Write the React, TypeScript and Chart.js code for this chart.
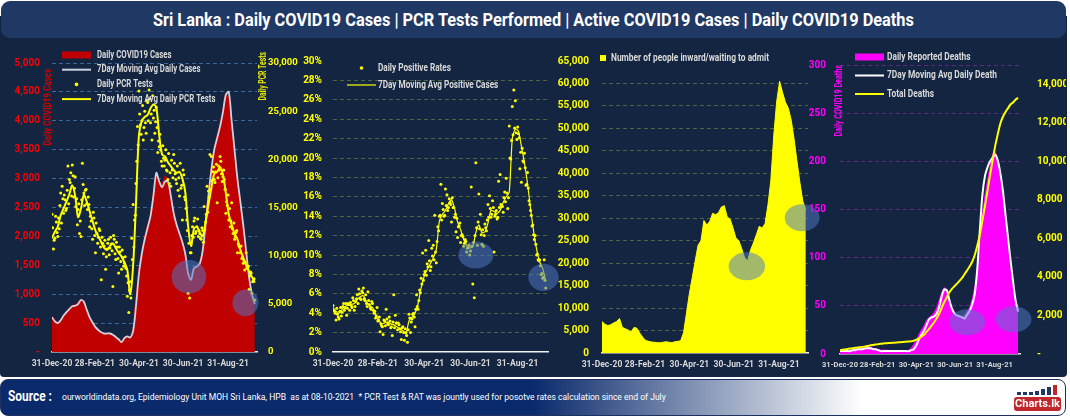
import React, { useEffect, useRef } from 'react';
import { Chart, registerables } from 'chart.js';

Chart.register(...registerables);

const FONT = 'Roboto, "Liberation Sans", sans-serif';

// ---------- x axis (days since 31-Dec-2020) ----------
const tickDays = [0, 59, 120, 181, 243];
const tickLabels = ['31-Dec-20', '28-Feb-21', '30-Apr-21', '30-Jun-21', '31-Aug-21'];

const gridDays = [0, 4, 8, 12, 16, 20, 24, 28, 32, 36, 40, 44, 48, 52, 56, 60, 64, 68, 72, 76, 80, 84, 88, 92, 96, 100, 104, 108, 112, 116, 120, 124, 128, 132, 136, 140, 144, 148, 152, 156, 160, 164, 168, 172, 176, 180, 184, 188, 192, 196, 200, 204, 208, 212, 216, 220, 224, 228, 232, 236, 240, 244, 248, 252, 256, 260, 264, 268, 272, 276, 280];

const dotDays = [0, 2, 4, 6, 8, 10, 12, 14, 16, 18, 20, 22, 24, 26, 28, 30, 32, 34, 36, 38, 40, 42, 44, 46, 48, 50, 52, 54, 56, 58, 60, 62, 64, 66, 68, 70, 72, 74, 76, 78, 80, 82, 84, 86, 88, 90, 92, 94, 96, 98, 100, 102, 104, 106, 108, 110, 112, 114, 116, 118, 120, 122, 124, 126, 128, 130, 132, 134, 136, 138, 140, 142, 144, 146, 148, 150, 152, 154, 156, 158, 160, 162, 164, 166, 168, 170, 172, 174, 176, 178, 180, 182, 184, 186, 188, 190, 192, 194, 196, 198, 200, 202, 204, 206, 208, 210, 212, 214, 216, 218, 220, 222, 224, 226, 228, 230, 232, 234, 236, 238, 240, 242, 244, 246, 248, 250, 252, 254, 256, 258, 260, 262, 264, 266, 268, 270, 272, 274, 276, 278, 280];

const oddDays = [1, 3, 5, 7, 9, 11, 13, 15, 17, 19, 21, 23, 25, 27, 29, 31, 33, 35, 37, 39, 41, 43, 45, 47, 49, 51, 53, 55, 57, 59, 61, 63, 65, 67, 69, 71, 73, 75, 77, 79, 81, 83, 85, 87, 89, 91, 93, 95, 97, 99, 101, 103, 105, 107, 109, 111, 113, 115, 117, 119, 121, 123, 125, 127, 129, 131, 133, 135, 137, 139, 141, 143, 145, 147, 149, 151, 153, 155, 157, 159, 161, 163, 165, 167, 169, 171, 173, 175, 177, 179, 181, 183, 185, 187, 189, 191, 193, 195, 197, 199, 201, 203, 205, 207, 209, 211, 213, 215, 217, 219, 221, 223, 225, 227, 229, 231, 233, 235, 237, 239, 241, 243, 245, 247, 249, 251, 253, 255, 257, 259, 261, 263, 265, 267, 269, 271, 273, 275, 277, 279];

// ---------- Panel 1: cases & PCR tests ----------
const dailyCases = [620, 560, 500, 560, 640, 700, 760, 800, 820, 860, 920, 860, 700, 580, 500, 420, 380, 340, 320, 330, 320, 300, 260, 220, 160, 260, 270, 240, 400, 950, 1450, 1750, 2000, 2200, 2350, 2800, 3100, 2950, 2900, 3050, 3000, 2700, 2400, 2200, 2050, 1900, 1700, 1400, 1350, 1480, 1500, 1560, 1800, 2250, 2800, 3200, 3550, 3750, 3950, 4200, 4500, 4400, 3800, 3350, 3000, 2500, 2050, 1650, 1250, 950, 830];
const avgCases = [600, 530, 500, 550, 630, 690, 740, 790, 800, 830, 900, 870, 730, 600, 510, 430, 380, 340, 320, 320, 320, 300, 260, 220, 170, 240, 270, 250, 360, 800, 1350, 1700, 1950, 2150, 2350, 2700, 3100, 2950, 2850, 2950, 2950, 2700, 2400, 2200, 2050, 1900, 1700, 1350, 1250, 1450, 1480, 1530, 1750, 2200, 2700, 3150, 3500, 3700, 3900, 4150, 4450, 4500, 4000, 3500, 3000, 2600, 2200, 1750, 1300, 1000, 830];
const avgPcr = [11800, 12500, 13000, 14200, 14900, 15600, 16400, 17300, 16200, 14000, 14900, 16300, 15600, 14600, 13600, 12600, 12000, 11400, 10800, 10600, 11000, 11300, 10800, 10300, 9900, 9300, 8500, 6000, 9000, 15500, 22500, 24000, 24400, 24600, 25300, 25700, 25400, 22500, 20500, 20300, 19700, 19300, 18900, 18600, 18700, 18000, 16600, 13000, 11000, 12800, 13000, 12400, 12000, 13500, 15300, 17000, 18500, 18700, 19200, 18400, 16500, 14300, 13200, 12300, 11700, 10600, 9800, 9000, 8400, 7800, 7200];
const pcrDots = [14300, 10700, 11800, 13500, 12000, 12800, 16500, 17200, 14400, 15800, 14900, 19300, 17900, 18600, 19400, 16100, 18200, 15900, 14800, 12300, 12000, 19600, 16500, 16800, 15400, 16100, 13000, 13600, 11700, 13900, 10300, 12300, 11900, 12600, 7500, 11300, 11000, 8600, 10700, 11700, 10800, 11200, 6800, 11700, 9600, 10900, 8200, 10400, 8600, 9800, 9200, 8700, 5800, 4100, 7300, 11800, 15300, 13700, 17500, 23400, 27100, 23600, 24000, 22000, 25000, 22700, 25900, 27200, 23800, 22000, 24300, 22700, 25400, 20700, 21300, 21000, 19300, 20100, 19900, 18900, 17900, 17500, 17200, 18900, 20500, 18500, 17500, 16800, 16200, 17000, 13700, 18400, 15800, 13700, 6100, 5600, 10300, 13000, 13600, 12300, 13000, 12000, 12300, 11700, 12600, 15100, 13500, 17200, 16700, 20500, 20300, 18700, 17900, 18700, 15500, 19300, 20300, 18500, 18200, 17900, 14400, 15200, 13700, 13000, 15500, 12300, 11700, 12400, 10300, 11000, 10300, 9700, 9200, 8500, 10300, 8800, 6500, 8300, 6100, 7400, 5400];
const pcrDotsOdd = [12900, 11600, 14100, 12400, 13900, 15200, 13400, 15900, 16300, 14700, 16800, 15400, 17600, 16200, 18300, 17000, 15100, 13200, 15400, 13600, 15800, 17400, 15200, 16900, 14800, 15300, 14100, 12800, 14500, 12100, 13400, 11300, 12800, 10900, 11900, 10200, 11600, 9900, 11300, 10100, 11900, 10500, 12100, 10200, 11400, 9700, 10900, 9400, 10600, 8900, 9900, 7900, 7200, 6400, 5600, 9600, 10900, 14200, 19800, 21500, 24700, 22600, 25600, 23300, 23800, 26100, 24000, 26300, 24700, 26600, 25100, 23900, 23300, 21900, 22600, 19800, 21400, 19300, 21000, 18800, 20600, 18600, 19900, 18100, 19600, 17900, 19300, 18100, 19600, 17300, 18900, 16100, 14900, 12600, 11300, 10300, 12100, 11900, 13900, 12500, 13800, 12600, 11800, 12900, 11400, 12700, 14300, 14500, 16100, 16900, 17800, 19200, 17600, 19500, 18100, 18900, 19800, 17700, 18900, 16900, 15600, 16300, 14900, 13600, 12800, 13400, 12000, 12600, 11200, 10900, 11000, 9900, 9500, 9300, 8700, 8900, 7900, 8200, 7300, 7600];

// ---------- Panel 2: positive rates (%) ----------
const avgPositive = [4.6, 4.2, 4.0, 4.4, 4.7, 4.8, 4.9, 5.0, 5.4, 5.7, 5.8, 5.2, 4.8, 4.6, 3.9, 3.3, 2.9, 3.0, 3.1, 2.9, 2.8, 2.6, 2.4, 2.2, 1.9, 3.2, 3.6, 4.0, 5.0, 6.6, 7.8, 8.5, 9.1, 9.7, 10.6, 13.5, 14.2, 14.6, 15.3, 15.7, 14.8, 13.4, 12.6, 11.6, 11.0, 10.7, 10.9, 12.3, 13.1, 12.3, 12.4, 13.3, 14.6, 14.5, 14.3, 14.6, 15.4, 16.0, 16.5, 22.0, 23.0, 22.8, 21.2, 19.5, 17.4, 14.8, 12.5, 10.6, 9.3, 8.6, 7.3];
const positiveDots = [4.8, 4.2, 3.3, 3.9, 3.4, 4.6, 4.1, 5.0, 4.6, 3.8, 5.0, 4.3, 4.8, 5.6, 4.3, 5.2, 5.9, 6.5, 5.5, 6.3, 6.6, 5.3, 5.0, 6.2, 4.9, 4.4, 5.0, 4.0, 3.5, 4.6, 3.3, 2.1, 2.7, 1.8, 3.2, 4.4, 2.9, 3.6, 2.5, 1.7, 5.9, 3.8, 3.0, 3.0, 2.4, 1.3, 2.6, 1.2, 2.0, 1.0, 3.9, 2.0, 3.4, 4.0, 2.6, 5.9, 4.4, 6.4, 7.6, 10.2, 8.0, 10.5, 9.1, 11.5, 8.4, 10.7, 11.0, 14.1, 9.2, 12.9, 14.0, 17.3, 15.3, 14.0, 16.8, 16.2, 14.9, 15.4, 13.4, 14.9, 13.9, 12.4, 11.8, 13.0, 11.3, 12.1, 10.9, 11.6, 10.3, 10.8, 10.0, 17.0, 7.0, 5.6, 19.5, 11.0, 16.3, 14.2, 11.1, 10.9, 13.2, 12.5, 15.2, 16.1, 13.9, 15.6, 10.3, 14.2, 13.7, 17.6, 18.3, 15.0, 14.4, 16.5, 17.9, 14.8, 23.3, 19.9, 25.3, 27.0, 25.9, 21.9, 22.5, 18.9, 17.5, 19.7, 20.5, 17.2, 18.5, 15.6, 14.6, 13.0, 12.1, 12.0, 10.0, 9.5, 9.5, 8.0, 7.6, 9.5, 6.6];
const positiveDotsOdd = [4.3, 4.0, 4.5, 3.6, 4.2, 3.7, 4.7, 4.3, 5.0, 4.5, 4.9, 5.1, 4.6, 5.3, 4.7, 5.5, 5.0, 6.0, 5.4, 6.1, 5.5, 5.9, 4.7, 5.3, 4.6, 5.2, 4.3, 4.2, 3.7, 3.2, 3.6, 2.9, 2.6, 3.3, 2.7, 3.4, 2.8, 3.2, 2.6, 3.1, 2.5, 3.0, 2.3, 2.8, 2.1, 2.5, 2.0, 2.4, 1.7, 2.3, 3.5, 3.1, 3.9, 3.6, 4.4, 4.7, 5.3, 6.1, 7.0, 7.4, 8.3, 7.9, 8.8, 9.4, 8.8, 9.9, 9.5, 10.3, 11.4, 12.5, 14.1, 13.6, 14.7, 14.1, 15.1, 14.6, 15.8, 15.2, 15.9, 14.9, 14.2, 13.8, 12.9, 13.3, 12.0, 11.9, 11.2, 11.4, 10.7, 11.0, 10.4, 10.9, 11.3, 12.0, 12.8, 13.4, 12.7, 12.1, 12.6, 12.0, 12.8, 13.6, 13.9, 14.8, 14.2, 14.9, 14.0, 14.6, 13.9, 14.9, 15.2, 15.0, 15.9, 15.5, 16.4, 15.9, 20.0, 21.8, 22.4, 23.1, 22.6, 23.2, 22.1, 20.6, 21.0, 19.6, 19.0, 17.3, 16.9, 15.2, 14.1, 13.1, 11.6, 11.1, 10.1, 9.4, 8.9, 8.1, 7.7, 7.4];

// ---------- Panel 3: people inward / waiting to admit ----------
const activeCases = [7000, 6400, 6100, 6300, 6700, 7000, 7700, 5700, 5400, 5100, 4700, 5700, 5500, 4400, 3500, 2800, 2600, 2450, 2400, 2300, 2300, 2400, 2500, 2400, 2300, 2500, 2600, 2700, 4500, 8800, 13200, 16800, 20500, 24000, 25000, 29500, 28500, 29300, 31100, 30800, 31200, 32500, 32800, 30300, 29800, 27800, 25600, 25000, 23200, 21200, 20500, 22900, 24500, 26300, 28200, 27800, 28800, 33000, 38500, 48500, 56000, 60500, 58000, 55800, 54500, 51800, 47500, 42500, 37800, 33700, 32000];

// ---------- Panel 4: deaths ----------
const dailyDeaths = [3, 3, 4, 3, 4, 4, 5, 5, 5, 6, 6, 7, 7, 6, 5, 5, 4, 4, 4, 4, 3, 3, 3, 3, 3, 3, 3, 4, 6, 10, 14, 20, 25, 29, 35, 38, 40, 43, 48, 56, 64, 69, 62, 54, 48, 44, 39, 40, 39, 40, 45, 48, 57, 70, 85, 105, 145, 165, 180, 195, 208, 210, 202, 186, 162, 135, 110, 84, 65, 52, 44];
const avgDeaths = [3, 3, 3, 3, 3, 4, 4, 5, 5, 5, 6, 6, 6, 5, 5, 4, 3, 3, 3, 3, 3, 3, 3, 3, 3, 3, 3, 3, 4, 5, 9, 15, 20, 24, 30, 36, 38, 39, 42, 49, 60, 67, 66, 56, 47, 42, 40, 39, 38, 37, 41, 45, 52, 63, 90, 130, 166, 185, 194, 200, 204, 207, 201, 188, 170, 146, 122, 98, 76, 56, 44];
const totalDeaths = [200, 220, 240, 260, 280, 300, 320, 340, 350, 370, 390, 420, 450, 470, 490, 510, 530, 545, 555, 565, 575, 585, 595, 605, 615, 625, 640, 650, 665, 690, 740, 810, 900, 1000, 1150, 1300, 1470, 1650, 1850, 2100, 2400, 2700, 2950, 3200, 3380, 3520, 3650, 3800, 3950, 4150, 4350, 4550, 4800, 5150, 5650, 6200, 6950, 7700, 8500, 9300, 10050, 10800, 11400, 11950, 12300, 12550, 12750, 12950, 13050, 13200, 13300];

// ---------- highlight ellipses (data units) ----------
const casesMarks = [{ day: 189, value: 1300, rDays: 24, rValue: 290 }, { day: 267, value: 850, rDays: 18, rValue: 230 }];
const positiveMarks = [{ day: 188, value: 10, rDays: 23, rValue: 1.4 }, { day: 277, value: 7.7, rDays: 20, rValue: 1.4 }];
const activeMarks = [{ day: 199, value: 19300, rDays: 25, rValue: 3100 }, { day: 275, value: 30100, rDays: 24, rValue: 3000 }];
const deathMarks = [{ day: 200, value: 33, rDays: 28, rValue: 13.5 }, { day: 273, value: 36, rDays: 28, rValue: 13.6 }];

const pts = (xs: number[], ys: number[]) => ys.map((y, i) => ({ x: xs[i], y }));
const fmtN = (v: any) => Number(v).toLocaleString('en-US');

const xAxis = (h: number, size = 8.5) => ({
  type: 'linear',
  min: 0,
  max: 283,
  grid: { display: false, drawTicks: false },
  border: { display: true, color: '#f2f2f2', width: 1.5 },
  afterBuildTicks: (s: any) => {
    s.ticks = tickDays.map((v) => ({ value: v }));
  },
  afterFit: (s: any) => {
    s.height = h;
  },
  ticks: {
    autoSkip: false,
    maxRotation: 0,
    padding: 7,
    color: '#d9d9d9',
    font: { family: FONT, size, weight: 'bold' },
    callback: (_v: any, i: number) => tickLabels[i],
  },
});

const yAxis = (o: any) => ({
  type: 'linear',
  position: o.pos,
  min: 0,
  max: o.max,
  afterFit: (s: any) => {
    s.width = o.width;
  },
  afterBuildTicks: (s: any) => {
    const t: any[] = [];
    for (let v = 0; v <= o.top + 1e-9; v += o.step) t.push({ value: v });
    s.ticks = t;
  },
  border: { display: false, dash: [4, 3] },
  grid: {
    display: !!o.grid,
    drawTicks: false,
    lineWidth: 1,
    color: (c: any) => (c.tick && o.skip.includes(c.tick.value) ? 'rgba(0,0,0,0)' : o.grid || 'rgba(0,0,0,0)'),
  },
  ticks: {
    padding: o.pad,
    color: o.color,
    font: { family: FONT, size: o.size || 10, weight: 'bold' },
    callback: o.fmt,
  },
});

function condensed(ctx: any, text: string, x: number, y: number, k: number) {
  ctx.save();
  ctx.translate(x, y);
  ctx.scale(k, 1);
  ctx.fillText(text, 0, 0);
  ctx.restore();
}

function makeDecor(cfg: any) {
  return {
    id: 'decor',
    afterDatasetsDraw(chart: any) {
      const ctx = chart.ctx;
      const xs = chart.scales.x;
      (cfg.ellipses || []).forEach((e: any) => {
        const ys = chart.scales[cfg.ellipseAxis];
        const cx = xs.getPixelForValue(e.day);
        const cy = ys.getPixelForValue(e.value);
        const rx = Math.abs(xs.getPixelForValue(e.day + e.rDays) - cx);
        const ry = Math.abs(ys.getPixelForValue(e.value + e.rValue) - cy);
        ctx.save();
        ctx.fillStyle = 'rgba(78,118,200,0.52)';
        ctx.beginPath();
        ctx.ellipse(cx, cy, rx, ry, 0, 0, Math.PI * 2);
        ctx.fill();
        ctx.restore();
      });
    },
    afterDraw(chart: any) {
      const ctx = chart.ctx;
      const ca = chart.chartArea;
      (cfg.titles || []).forEach((t: any) => {
        const x = t.side === 'left' ? ca.left + t.dx : ca.right + t.dx;
        const y = ca.top + t.dy;
        ctx.save();
        ctx.translate(x, y);
        ctx.rotate(-Math.PI / 2);
        ctx.font = `bold 10px ${FONT}`;
        ctx.fillStyle = t.color;
        ctx.textAlign = 'right';
        ctx.textBaseline = 'middle';
        ctx.scale(t.k || 0.75, 1);
        ctx.fillText(t.text, 0, 0);
        ctx.restore();
      });
      const lg = cfg.legend;
      if (lg) {
        lg.items.forEach((it: any, i: number) => {
          const ds = chart.data.datasets[it.ds];
          const y = lg.y + i * lg.step;
          const x = lg.x;
          ctx.save();
          if (it.kind === 'rect') {
            ctx.fillStyle = ds.backgroundColor;
            ctx.fillRect(x, y - 3.5, 29, 7);
          } else if (it.kind === 'line') {
            ctx.strokeStyle = ds.borderColor;
            ctx.lineWidth = it.w || 2;
            ctx.beginPath();
            ctx.moveTo(x, y);
            ctx.lineTo(x + 29, y);
            ctx.stroke();
          } else if (it.kind === 'dot') {
            ctx.fillStyle = ds.pointBackgroundColor;
            ctx.beginPath();
            ctx.arc(x + 14.5, y, 1.8, 0, Math.PI * 2);
            ctx.fill();
          } else if (it.kind === 'square') {
            ctx.fillStyle = ds.backgroundColor;
            ctx.fillRect(x, y - 3, 6, 6);
          }
          ctx.font = `bold ${lg.size}px ${FONT}`;
          ctx.fillStyle = '#d9d9d9';
          ctx.textAlign = 'left';
          ctx.textBaseline = 'middle';
          condensed(ctx, ds.label, lg.textX, y, lg.k);
          ctx.restore();
        });
      }
    },
  };
}

const baseOptions = (padTop: number, padRight: number) => ({
  animation: false,
  responsive: false,
  events: [],
  layout: { padding: { left: 0, right: padRight, top: padTop, bottom: 0 } },
  plugins: { legend: { display: false }, tooltip: { enabled: false } },
});

const cfgCases = () => ({
  type: 'line',
  data: {
    datasets: [
      { label: 'Daily COVID19 Cases', data: pts(gridDays, dailyCases), yAxisID: 'yL', fill: 'origin', backgroundColor: '#c00000', borderColor: '#c00000', borderWidth: 1, pointRadius: 0, tension: 0, order: 4 },
      { label: '7Day Moving Avg Daily Cases', data: pts(gridDays, avgCases), yAxisID: 'yL', fill: false, borderColor: '#cdd2de', borderWidth: 1.8, pointRadius: 0, tension: 0.3, order: 3 },
      { label: 'Daily PCR Tests', data: [...pts(dotDays, pcrDots), ...pts(oddDays, pcrDotsOdd)], yAxisID: 'yR', showLine: false, pointRadius: 1.5, pointBorderWidth: 0, pointBackgroundColor: '#ffff00', borderColor: '#ffff00', order: 2 },
      { label: '7Day Moving Avg Daily PCR Tests', data: pts(gridDays, avgPcr), yAxisID: 'yR', fill: false, borderColor: '#ffff00', borderWidth: 2, pointRadius: 0, tension: 0.3, order: 1 },
    ],
  },
  options: {
    ...baseOptions(21, 0),
    scales: {
      x: xAxis(25),
      yL: yAxis({ pos: 'left', max: 5000, top: 5000, step: 500, width: 52, pad: 12, color: '#ff0000', grid: 'rgba(70,120,175,0.8)', skip: [0], fmt: (v: any) => (v === 0 ? '-' : fmtN(v)) }),
      yR: yAxis({ pos: 'right', max: 30000, top: 30000, step: 5000, width: 41, pad: 11, color: '#ffff00', grid: null, skip: [], size: 9.5, fmt: fmtN }),
    },
  },
  plugins: [
    makeDecor({
      ellipses: casesMarks,
      ellipseAxis: 'yL',
      titles: [
        { text: 'Daily COVID19 Cases', color: '#d00000', side: 'left', dx: -4, dy: 6, k: 0.8 },
        { text: 'Daily PCR Tests', color: '#e8e800', side: 'right', dx: 6, dy: -11, k: 0.68 },
      ],
      legend: { x: 62, y: 13, step: 14.7, textX: 97, size: 10, k: 0.78, items: [{ ds: 0, kind: 'rect' }, { ds: 1, kind: 'line' }, { ds: 2, kind: 'dot' }, { ds: 3, kind: 'line' }] },
    }),
  ],
});

const cfgPositive = () => ({
  type: 'line',
  data: {
    datasets: [
      { label: 'Daily Positive Rates', data: [...pts(dotDays, positiveDots), ...pts(oddDays, positiveDotsOdd)], yAxisID: 'y', showLine: false, pointRadius: 1.5, pointBorderWidth: 0, pointBackgroundColor: '#ffff00', borderColor: '#ffff00', order: 2 },
      { label: '7Day Moving Avg Positive Cases', data: pts(gridDays, avgPositive), yAxisID: 'y', fill: false, borderColor: '#ffff00', borderWidth: 1.2, pointRadius: 0, tension: 0.25, order: 1 },
    ],
  },
  options: {
    ...baseOptions(19, 16),
    scales: {
      x: xAxis(25),
      y: yAxis({ pos: 'left', max: 30, top: 30, step: 2, width: 35, pad: 11, color: '#ffff00', grid: '#4b6640', skip: [0, 30], fmt: (v: any) => `${v}%` }),
    },
  },
  plugins: [
    makeDecor({
      ellipses: positiveMarks,
      ellipseAxis: 'y',
      titles: [],
      legend: { x: 49, y: 26, step: 17, textX: 80, size: 10.5, k: 0.78, items: [{ ds: 0, kind: 'dot' }, { ds: 1, kind: 'line', w: 1.2 }] },
    }),
  ],
});

const cfgActive = () => ({
  type: 'line',
  data: {
    datasets: [
      { label: 'Number of people inward/waiting to admit', data: pts(gridDays, activeCases), yAxisID: 'y', fill: 'origin', backgroundColor: '#ffff00', borderColor: '#ffff00', borderWidth: 1, pointRadius: 0, tension: 0 },
    ],
  },
  options: {
    ...baseOptions(15, 14),
    scales: {
      x: xAxis(24),
      y: yAxis({ pos: 'left', max: 65000, top: 65000, step: 5000, width: 48, pad: 13, color: '#ffff00', grid: '#4b6640', skip: [0, 65000], fmt: fmtN }),
    },
  },
  plugins: [
    makeDecor({
      ellipses: activeMarks,
      ellipseAxis: 'y',
      titles: [],
      legend: { x: 46, y: 16, step: 17, textX: 57, size: 11, k: 0.76, items: [{ ds: 0, kind: 'square' }] },
    }),
  ],
});

const cfgDeaths = () => ({
  type: 'line',
  data: {
    datasets: [
      { label: 'Daily Reported Deaths', data: pts(gridDays, dailyDeaths), yAxisID: 'yL', fill: 'origin', backgroundColor: '#ff00ff', borderColor: '#ff00ff', borderWidth: 1, pointRadius: 0, tension: 0, order: 3 },
      { label: '7Day Moving Avg Daily Death', data: pts(gridDays, avgDeaths), yAxisID: 'yL', fill: false, borderColor: '#ffffff', borderWidth: 2, pointRadius: 0, tension: 0.3, order: 2 },
      { label: 'Total Deaths', data: pts(gridDays, totalDeaths), yAxisID: 'yR', fill: false, borderColor: '#ffff00', borderWidth: 2, pointRadius: 0, tension: 0.3, order: 1 },
    ],
  },
  options: {
    ...baseOptions(16, 0),
    scales: {
      x: xAxis(22, 7.5),
      yL: yAxis({ pos: 'left', max: 300, top: 300, step: 50, width: 36, pad: 14, color: '#ff00ff', grid: '#5d2a83', skip: [0], fmt: fmtN }),
      yR: yAxis({ pos: 'right', max: 15000, top: 14000, step: 2000, width: 46, pad: 17, color: '#ffff00', grid: null, skip: [], fmt: (v: any) => (v === 0 ? '-' : fmtN(v)) }),
    },
  },
  plugins: [
    makeDecor({
      ellipses: deathMarks,
      ellipseAxis: 'yL',
      titles: [{ text: 'Daily COVID19 Deaths', color: '#ff00ff', side: 'left', dx: -1, dy: 0, k: 0.72 }],
      legend: { x: 51, y: 15, step: 18.5, textX: 83, size: 11, k: 0.76, items: [{ ds: 0, kind: 'rect' }, { ds: 1, kind: 'line' }, { ds: 2, kind: 'line' }] },
    }),
  ],
});

function ChartBox({ left, top, width, height, make }: any) {
  const ref = useRef<HTMLCanvasElement | null>(null);
  useEffect(() => {
    const chart = new Chart(ref.current as HTMLCanvasElement, make());
    return () => chart.destroy();
  }, []);
  return (
    <div style={{ position: 'absolute', left, top, width, height }}>
      <canvas ref={ref} width={width} height={height} style={{ width, height, display: 'block' }} />
    </div>
  );
}

export default function App() {
  const bar = (l: number, t: number, h: number, c: string) => (
    <div style={{ position: 'absolute', left: l, top: t, width: 4, height: h, background: c }} />
  );
  return (
    <div style={{ position: 'fixed', left: 0, top: 0, width: 1070, height: 419, background: '#ffffff', overflow: 'hidden', fontFamily: FONT }}>
      <div style={{ position: 'absolute', left: 0, top: 16, width: 1067, height: 361, background: '#132540', borderRadius: '0 0 4px 4px' }} />
      <div
        style={{
          position: 'absolute', left: 1, top: 1, width: 1065, height: 37, background: '#203864', borderRadius: 9,
          display: 'flex', alignItems: 'center', justifyContent: 'center', color: '#ffffff',
        }}
      >
        <span style={{ display: 'inline-block', fontWeight: 'bold', fontSize: 19, transform: 'scaleX(0.86)', whiteSpace: 'nowrap' }}>
          Sri Lanka : Daily COVID19 Cases | PCR Tests Performed | Active COVID19 Cases | Daily COVID19 Deaths
        </span>
      </div>

      <ChartBox left={0} top={42} width={298} height={335} make={cfgCases} />
      <ChartBox left={298} top={42} width={266} height={335} make={cfgPositive} />
      <ChartBox left={554} top={42} width={268} height={335} make={cfgActive} />
      <ChartBox left={804} top={42} width={262} height={335} make={cfgDeaths} />

      <div
        style={{
          position: 'absolute', left: 0, top: 379, width: 1064, height: 35, border: '1.5px solid #1d3160', borderRadius: 8,
          background: 'linear-gradient(90deg, #0a2a6c 0%, #0a2a6c 50%, #ffffff 81%, #ffffff 100%)',
        }}
      >
        <span style={{ position: 'absolute', left: 7, top: 8, color: '#ffffff', fontWeight: 'bold', fontSize: 14, whiteSpace: 'pre', transform: 'scaleX(0.85)', transformOrigin: 'left center' }}>Source :</span>
        <span style={{ position: 'absolute', left: 61, top: 11, color: '#ffffff', fontSize: 9.5, whiteSpace: 'pre', transform: 'scaleX(0.9)', transformOrigin: 'left center' }}>
          ourworldindata.org, Epidemiology Unit MOH Sri Lanka, HPB  as at 08-10-2021  * PCR Test &amp; RAT was jountly used for posotve rates calculation since end of July
        </span>
        {bar(1016, 12, 3, '#1f3864')}
        {bar(1022, 12, 3, '#1f3864')}
        {bar(1028, 12, 3, '#1f3864')}
        {bar(1034, 11, 4, '#1f3864')}
        {bar(1040, 9, 6, '#1f3864')}
        {bar(1046, 7, 8, '#1f3864')}
        {bar(1052, 5, 10, '#c0272d')}
        <div
          style={{
            position: 'absolute', left: 1013, top: 17, width: 47, height: 14, background: '#c0272d', borderRadius: 3,
            color: '#ffffff', fontWeight: 'bold', fontSize: 11, lineHeight: '14px', textAlign: 'center',
          }}
        >
          Charts.lk
        </div>
      </div>
    </div>
  );
}
